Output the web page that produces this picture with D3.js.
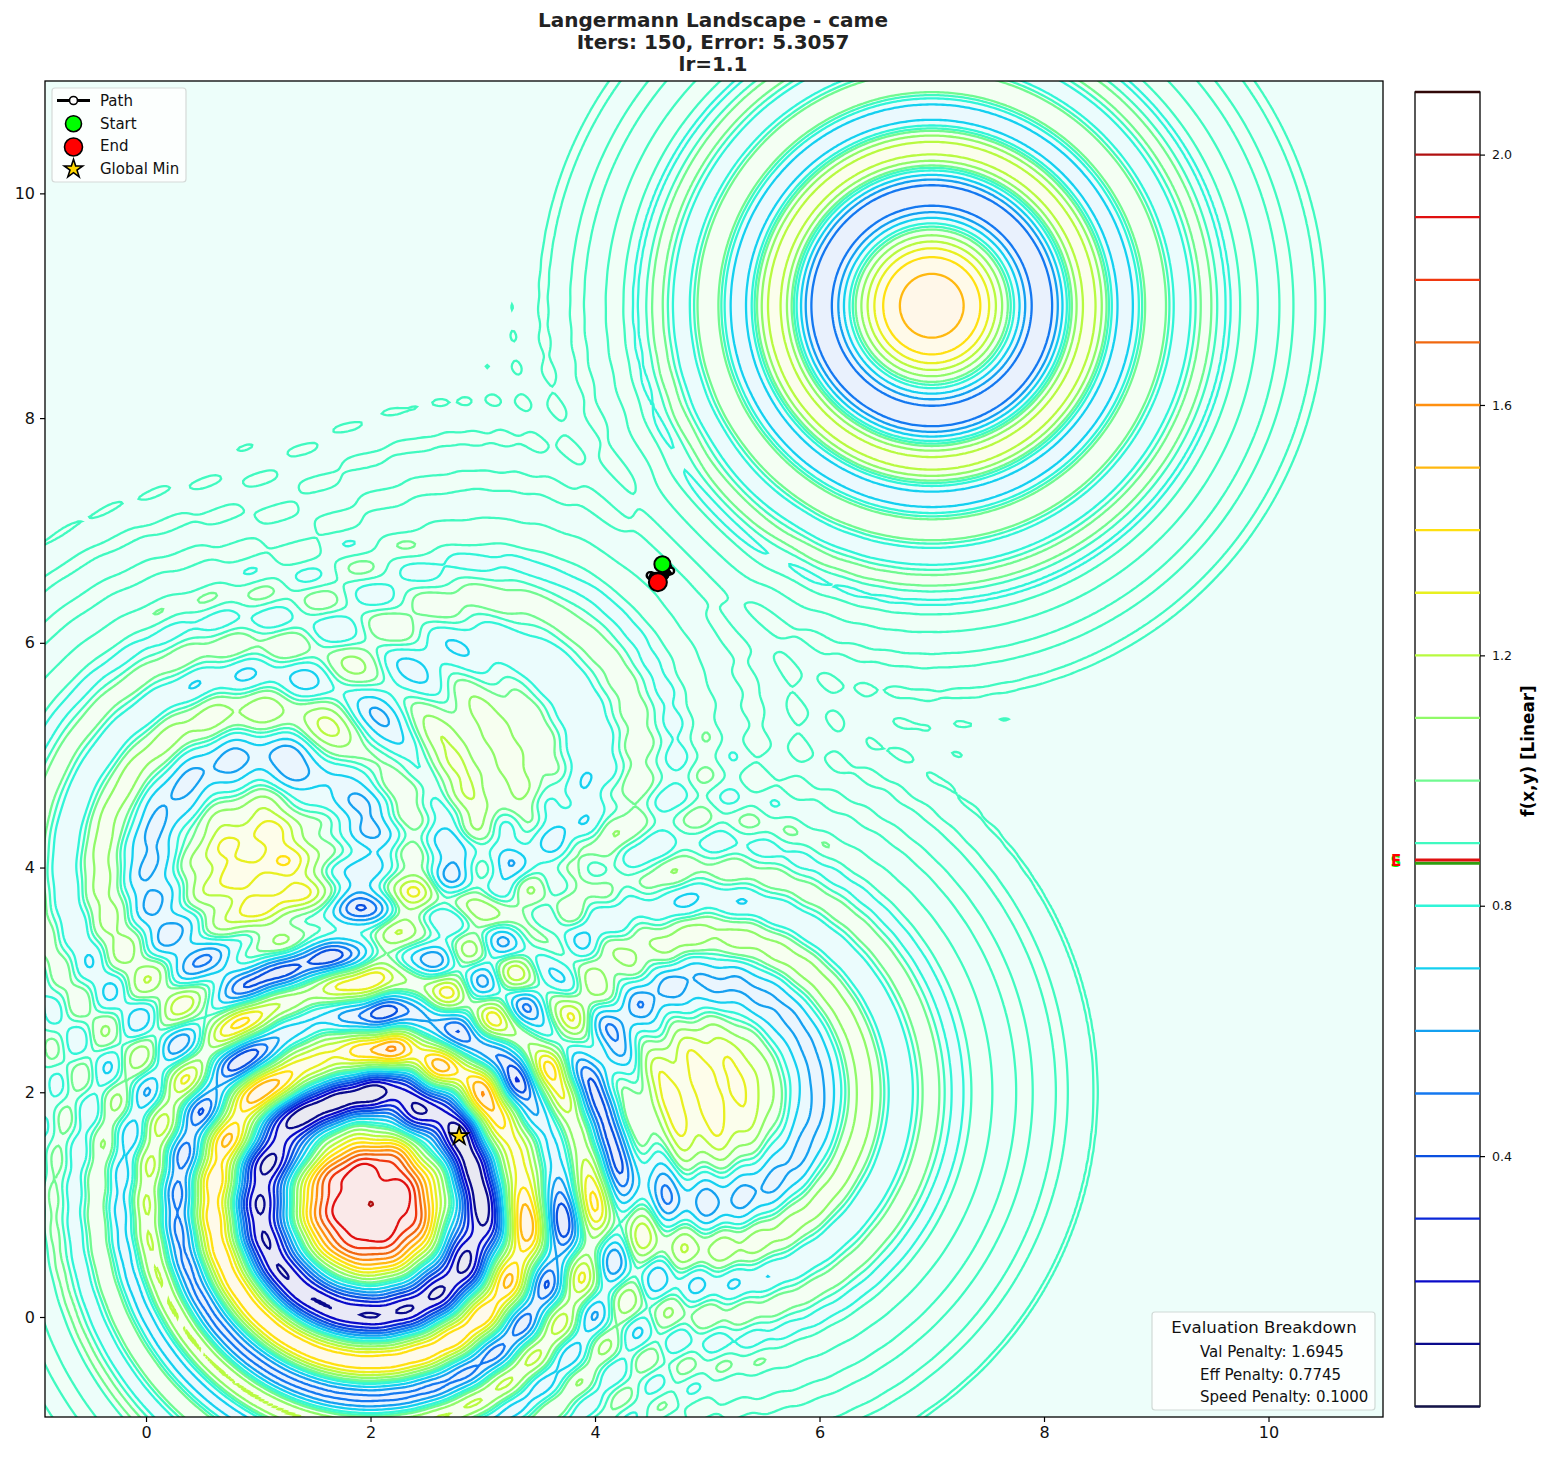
<!DOCTYPE html>
<html>
<head>
<meta charset="utf-8">
<script src="https://d3js.org/d3.v7.min.js"></script>
<style>
html, body { margin: 0; padding: 0; background: #fff; }
text { font-family: "DejaVu Sans", sans-serif; }
</style>
</head>
<body>
<div id="chart"></div>
<script>
// Langermann parameters (peak centres seen in the picture, weights fitted to the rings)
var centersX = [3, 5, 2, 1, 7];
var centersY = [5, 2, 1, 4, 9];
var weights = [1, 2, 5, 2, 3];

var levels = [0, 0.1, 0.2, 0.3, 0.4, 0.5, 0.6, 0.7, 0.8, 0.9, 1.0, 1.1, 1.2, 1.3, 1.4, 1.5, 1.6, 1.7, 1.8, 1.9, 2.0, 2.1];
// f value where each colorbar level runs, estimated from the ring radii in the picture
var levelF = [-4.2, -3.66, -3.2, -2.75, -2.3, -1.85, -1.37, -0.85, -0.3, 0.04, 0.33, 0.87, 1.4, 1.88, 2.35, 2.83, 3.3, 3.75, 4.2, 4.58, 5.155, 5.6];
var levelColors = ["#14144a", "#0a0a8c", "#0a0ac8", "#0a28d8", "#0a50e0", "#1478f0", "#14a0f0", "#14d0f0", "#30f5d8", "#40fac0", "#70fa90", "#90fa68", "#b8fa40", "#e8f020", "#ffe010", "#ffb810", "#ff9010", "#f06810", "#f03810", "#e01010", "#b01010", "#300808"];

var pathX = [4.60, 4.65, 4.675, 4.62, 4.53, 4.49, 4.56];
var pathY = [6.70, 6.67, 6.64, 6.60, 6.59, 6.60, 6.54];
var globalMin = [2.79, 1.61];
var startValue = 0.868;
var endValue = 0.873;

var titleLines = ["Langermann Landscape - came", "Iters: 150, Error: 5.3057", "lr=1.1"];
var axisTicks = [0, 2, 4, 6, 8, 10];
var colorbarTicks = [0.4, 0.8, 1.2, 1.6, 2.0];
var penaltyLines = ["Val Penalty: 1.6945", "Eff Penalty: 0.7745", "Speed Penalty: 0.1000"];
var legendNames = ["Path", "Start", "End", "Global Min"];

var width = 1550, height = 1459;
var left = 45, right = 1383, top_ = 81, bottom = 1417;

var svg = d3.select("#chart").append("svg").attr("width", width).attr("height", height)
	.style("display", "block");

var x = d3.scaleLinear().domain([-0.9, 11.02]).range([left, right]);
var y = d3.scaleLinear().domain([-0.89, 11]).range([bottom, top_]);
var cbY = d3.scaleLinear().domain([0, 2.1]).range([1406.5, 92]);

// surface on a grid a bit bigger than the axes, so the closing edges get clipped away
var step = 0.02, x0 = -1.1, y0 = -1.1;
var nx = Math.round((11.2 - x0) / step) + 1;
var ny = Math.round((11.2 - y0) / step) + 1;
var grid = new Float64Array(nx * ny);
for (var j = 0; j < ny; j++) {
	for (var i = 0; i < nx; i++) {
		var px = x0 + i * step, py = y0 + j * step, f = 0;
		for (var k = 0; k < weights.length; k++) {
			var r2 = (px - centersX[k]) * (px - centersX[k]) + (py - centersY[k]) * (py - centersY[k]);
			f += weights[k] * Math.exp(-r2 / Math.PI) * Math.cos(Math.PI * r2);
		}
		grid[j * nx + i] = f;
	}
}

var contours = d3.contours().size([nx, ny]).smooth(true).thresholds(levelF)(grid);
var path = d3.geoPath(d3.geoTransform({
	point: function(gx, gy) {
		this.stream.point(x(x0 + (gx - 0.5) * step), y(y0 + (gy - 0.5) * step));
	}
}));

function tint(c1, c2) {
	var mid = d3.interpolateRgb(c1, c2)(0.5);
	return d3.interpolateRgb("#ffffff", mid)(0.09);
}

svg.append("defs").append("clipPath").attr("id", "plotClip").append("rect")
	.attr("x", left).attr("y", top_).attr("width", right - left).attr("height", bottom - top_);

var plot = svg.append("g").attr("clip-path", "url(#plotClip)");
plot.append("rect").attr("x", left).attr("y", top_).attr("width", right - left).attr("height", bottom - top_)
	.attr("fill", tint(levelColors[0], levelColors[0]));

plot.selectAll("path.band").data(contours).enter().append("path").attr("class", "band")
	.attr("d", path)
	.attr("fill", function(d, i) { return tint(levelColors[i], levelColors[Math.min(i + 1, levelColors.length - 1)]); });

plot.selectAll("path.line").data(contours).enter().append("path").attr("class", "line")
	.attr("d", path)
	.attr("fill", "none")
	.attr("stroke", function(d, i) { return levelColors[i]; })
	.attr("stroke-width", 2.3);

// optimizer path and markers, the later steps cover most of the white dots
var line = d3.line().x(function(d) { return x(d[0]); }).y(function(d) { return y(d[1]); });
var pathPoints = pathX.map(function(v, i) { return [v, pathY[i]]; });
plot.selectAll("circle.step").data(pathPoints).enter().append("circle").attr("class", "step")
	.attr("cx", function(d) { return x(d[0]); }).attr("cy", function(d) { return y(d[1]); })
	.attr("r", 3.3).attr("fill", "#fff").attr("stroke", "#000").attr("stroke-width", 2.4);
plot.append("path").attr("d", line(pathPoints.slice(3))).attr("fill", "none").attr("stroke", "#000").attr("stroke-width", 9)
	.attr("stroke-linecap", "round");
plot.append("path").attr("d", line([pathPoints[2], pathPoints[3]])).attr("fill", "none").attr("stroke", "#000").attr("stroke-width", 7);
plot.append("path").attr("d", line(pathPoints.slice(0, 2))).attr("fill", "none").attr("stroke", "#000").attr("stroke-width", 7);

plot.append("circle").attr("cx", x(pathX[0])).attr("cy", y(pathY[0])).attr("r", 8)
	.attr("fill", "#00ff00").attr("stroke", "#000").attr("stroke-width", 2);
plot.append("circle").attr("cx", x(pathX[pathX.length - 1])).attr("cy", y(pathY[pathY.length - 1])).attr("r", 9)
	.attr("fill", "#ff0000").attr("stroke", "#000").attr("stroke-width", 2);

var star = d3.symbol().type(d3.symbolStar).size(105);
plot.append("path").attr("d", star()).attr("transform", "translate(" + x(globalMin[0]) + "," + y(globalMin[1]) + ")")
	.attr("fill", "#ffd700").attr("stroke", "#000").attr("stroke-width", 1.6);

// axes
var xAxis = svg.append("g").attr("transform", "translate(0," + bottom + ")")
	.call(d3.axisBottom(x).tickValues(axisTicks).tickFormat(d3.format("d")).tickSize(5).tickPadding(5));
var yAxis = svg.append("g").attr("transform", "translate(" + left + ",0)")
	.call(d3.axisLeft(y).tickValues(axisTicks).tickFormat(d3.format("d")).tickSize(5).tickPadding(5));
[xAxis, yAxis].forEach(function(a) {
	a.select(".domain").remove();
	a.selectAll("text").attr("font-size", 16).attr("fill", "#111").style("font-family", '"DejaVu Sans", sans-serif');
	a.selectAll("line").attr("stroke", "#000").attr("stroke-width", 1.2);
});
svg.append("rect").attr("x", left).attr("y", top_).attr("width", right - left).attr("height", bottom - top_)
	.attr("fill", "none").attr("stroke", "#000").attr("stroke-width", 1.3);

// title
svg.selectAll("text.title").data(titleLines).enter().append("text").attr("class", "title")
	.attr("x", 713).attr("y", function(d, i) { return 27 + i * 22; })
	.attr("text-anchor", "middle").attr("font-size", 20).attr("font-weight", "bold").attr("fill", "#222")
	.text(function(d) { return d; });

// colorbar
var cbLeft = 1415, cbRight = 1480;
var cb = svg.append("g");
cb.append("rect").attr("x", cbLeft).attr("y", cbY(2.1)).attr("width", cbRight - cbLeft).attr("height", cbY(0) - cbY(2.1))
	.attr("fill", "none").attr("stroke", "#000").attr("stroke-width", 1.3);
cb.selectAll("line.level").data(levels).enter().append("line").attr("class", "level")
	.attr("x1", cbLeft).attr("x2", cbRight)
	.attr("y1", function(d) { return cbY(d); }).attr("y2", function(d) { return cbY(d); })
	.attr("stroke", function(d, i) { return levelColors[i]; }).attr("stroke-width", 2.3);
cb.append("line").attr("x1", cbLeft).attr("x2", cbRight).attr("y1", cbY(startValue)).attr("y2", cbY(startValue))
	.attr("stroke", "#2e9e10").attr("stroke-width", 3);
cb.append("line").attr("x1", cbLeft).attr("x2", cbRight).attr("y1", cbY(endValue)).attr("y2", cbY(endValue))
	.attr("stroke", "#e01010").attr("stroke-width", 3);
var cbAxis = svg.append("g").attr("transform", "translate(" + cbRight + ",0)")
	.call(d3.axisRight(cbY).tickValues(colorbarTicks).tickFormat(d3.format(".1f")).tickSize(5).tickPadding(7));
cbAxis.select(".domain").remove();
cbAxis.selectAll("text").attr("font-size", 12.6).attr("fill", "#111").style("font-family", '"DejaVu Sans", sans-serif');
cbAxis.selectAll("line").attr("stroke", "#000").attr("stroke-width", 1.2);
svg.append("text").attr("transform", "translate(1534,751) rotate(-90)").attr("text-anchor", "middle")
	.attr("font-size", 16.8).attr("font-weight", "bold").attr("fill", "#000").text("f(x,y) [Linear]");
// the two markers sit on top of each other in the reference too
svg.append("text").attr("x", 1396).attr("y", 867).attr("text-anchor", "middle")
	.attr("font-size", 15).attr("font-weight", "bold").attr("fill", "#00ff00").text("S");
svg.append("text").attr("x", 1396).attr("y", 866).attr("text-anchor", "middle")
	.attr("font-size", 15).attr("font-weight", "bold").attr("fill", "#ff0000").text("E");

// legend, top left
var lg = svg.append("g");
lg.append("rect").attr("x", 52).attr("y", 88).attr("width", 134).attr("height", 94).attr("rx", 3)
	.attr("fill", "#fff").attr("fill-opacity", 0.8).attr("stroke", "#d5dad8").attr("stroke-width", 1.2);
lg.selectAll("text").data(legendNames).enter().append("text")
	.attr("x", 100).attr("y", function(d, i) { return 106 + i * 22.7; })
	.attr("font-size", 15).attr("fill", "#111").text(function(d) { return d; });
lg.append("line").attr("x1", 57).attr("x2", 90).attr("y1", 100.5).attr("y2", 100.5).attr("stroke", "#000").attr("stroke-width", 3);
lg.append("circle").attr("cx", 73.5).attr("cy", 100.5).attr("r", 4).attr("fill", "#fff").attr("stroke", "#000").attr("stroke-width", 1.6);
lg.append("circle").attr("cx", 73.5).attr("cy", 123.7).attr("r", 8).attr("fill", "#00ff00").attr("stroke", "#000").attr("stroke-width", 1.6);
lg.append("circle").attr("cx", 73.5).attr("cy", 147).attr("r", 9).attr("fill", "#ff0000").attr("stroke", "#000").attr("stroke-width", 1.6);
lg.append("path").attr("d", star()).attr("transform", "translate(73.5,169)")
	.attr("fill", "#ffd700").attr("stroke", "#000").attr("stroke-width", 1.6);

// evaluation box, bottom right
var ev = svg.append("g");
ev.append("rect").attr("x", 1152).attr("y", 1312).attr("width", 223).attr("height", 98).attr("rx", 3)
	.attr("fill", "#fff").attr("fill-opacity", 0.8).attr("stroke", "#d0dad6").attr("stroke-width", 1.2);
ev.append("text").attr("x", 1264).attr("y", 1333).attr("text-anchor", "middle").attr("font-size", 16.6).attr("fill", "#111")
	.text("Evaluation Breakdown");
ev.selectAll("text.pen").data(penaltyLines).enter().append("text").attr("class", "pen")
	.attr("x", 1200).attr("y", function(d, i) { return 1357 + i * 22.5; })
	.attr("font-size", 15).attr("fill", "#111").text(function(d) { return d; });
</script>
</body>
</html>
